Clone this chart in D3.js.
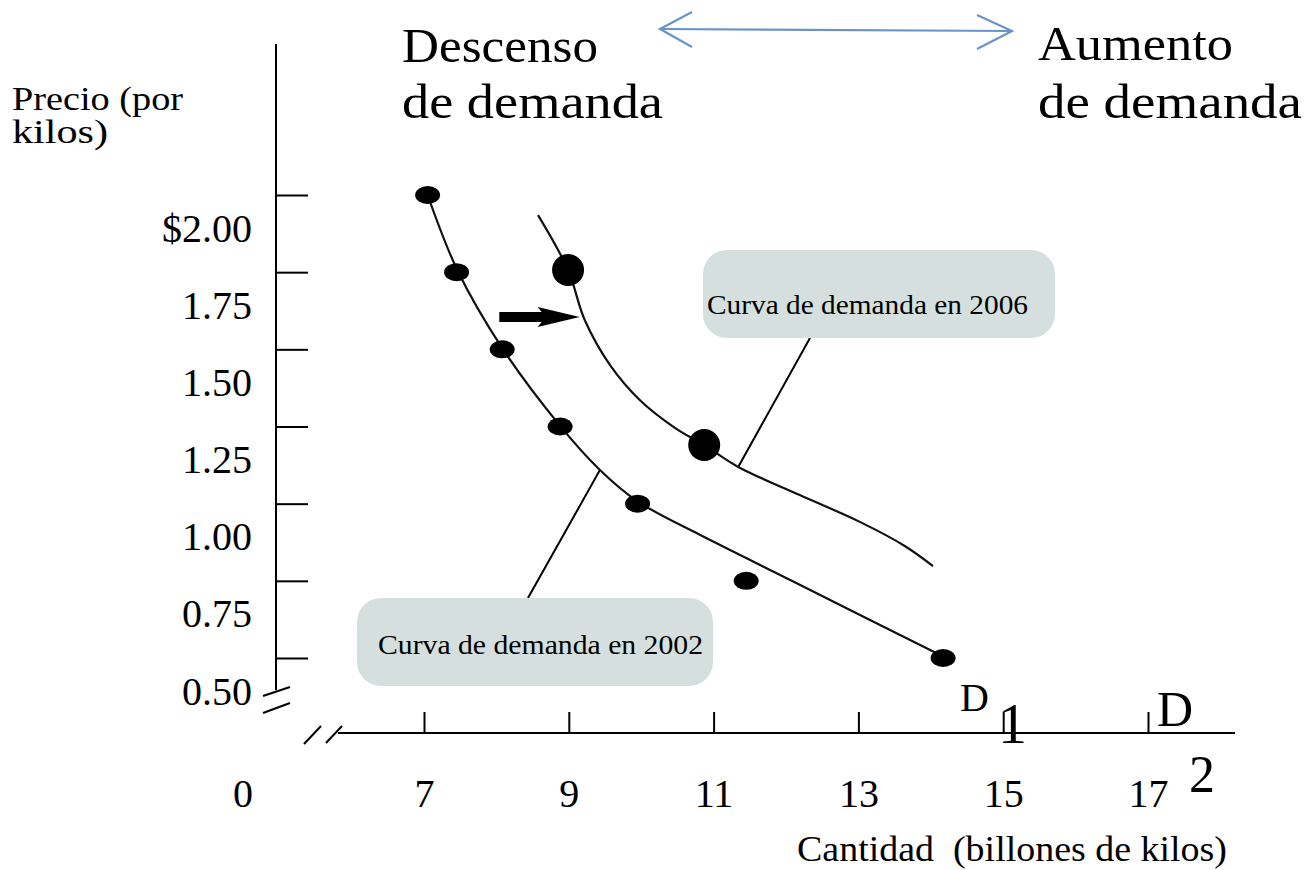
<!DOCTYPE html>
<html><head><meta charset="utf-8">
<script src="https://cdn.jsdelivr.net/npm/d3@7"></script>
<style>body{margin:0;background:#fff}svg{display:block}text{font-family:"Liberation Serif","Times New Roman",serif;fill:#000}</style>
</head><body>
<svg id="c" width="1314" height="870"></svg>
<script>
// ---- data ----
const xTicks = [7, 9, 11, 13, 15, 17];
const xTickLabels = ["7", "9", "11", "13", "15", "17"];
const yTicks = [2.00, 1.75, 1.50, 1.25, 1.00, 0.75, 0.50];
const yTickLabels = ["$2.00", "1.75", "1.50", "1.25", "1.00", "0.75", "0.50"];
// Demand 2002 (D1) observed points
const d1Qty = [7.05, 7.45, 8.08, 8.88, 9.95, 11.45, 14.17];
const d1Price = [2.00, 1.75, 1.50, 1.25, 1.00, 0.75, 0.50];
// D1 fitted curve
const d1CurveQty = [7.05, 7.46, 8.08, 8.88, 9.43, 9.94, 10.81, 11.45, 12.19, 13.16, 14.13];
const d1CurvePrice = [2.00, 1.757, 1.504, 1.252, 1.109, 1.009, 0.899, 0.824, 0.737, 0.623, 0.51];
// Demand 2006 (D2) points and curve
const d2Qty = [8.99, 10.87];
const d2Price = [1.757, 1.19];
const d2CurveQty = [8.575, 8.99, 9.22, 9.57, 9.98, 10.47, 10.87, 11.34, 12.19, 13.02, 13.64, 14.03];
const d2CurvePrice = [1.935, 1.757, 1.595, 1.449, 1.336, 1.245, 1.19, 1.119, 1.028, 0.941, 0.863, 0.798];
const shiftArrow = [[8.04, 1.605], [9.15, 1.605]];
const calloutAnchors = [[11.34, 1.119], [9.43, 1.109]];
const calloutTexts = ["Curva de demanda en 2006", "Curva de demanda en 2002"];

// ---- scales ----
const svg = d3.select("#c");
const x = d3.scaleLinear().domain([7, 17]).range([424, 1148]);
const y = d3.scaleLinear().domain([0.5, 2.0]).range([658, 195]);
const x0 = 276, y0 = 733;

// ---- x axis ----
svg.append("line").attr("x1", 338).attr("x2", 1235).attr("y1", y0).attr("y2", y0)
  .attr("stroke", "#000").attr("stroke-width", 2);
const xa = svg.append("g").attr("transform", `translate(0,${y0})`)
  .call(d3.axisBottom(x).tickValues(xTicks).tickFormat((d, i) => xTickLabels[i])
    .tickSizeInner(-21).tickSizeOuter(0).tickPadding(46));
xa.select(".domain").remove();
xa.selectAll(".tick line").attr("stroke", "#000").attr("stroke-width", 2);
xa.selectAll(".tick text").style("font-family", '"Liberation Serif",serif').style("font-size", "40px").attr("fill", "#000");
svg.append("text").attr("x", 243).attr("y", 807).attr("text-anchor", "middle").style("font-size", "40px").text("0");

// ---- y axis ----
svg.append("line").attr("x1", x0).attr("x2", x0).attr("y1", 44).attr("y2", 690)
  .attr("stroke", "#000").attr("stroke-width", 2);
const ya = svg.append("g").attr("transform", `translate(${x0},0)`)
  .call(d3.axisLeft(y).tickValues(yTicks).tickFormat((d, i) => yTickLabels[i])
    .tickSizeInner(-32).tickSizeOuter(0).tickPadding(24));
ya.select(".domain").remove();
ya.selectAll(".tick line").attr("stroke", "#000").attr("stroke-width", 2);
ya.selectAll(".tick text").attr("dy", 46).style("font-family", '"Liberation Serif",serif').style("font-size", "40px").attr("fill", "#000");

// break marks
const brk = svg.append("g").attr("stroke", "#000").attr("stroke-width", 2);
brk.append("line").attr("x1", 263).attr("y1", 696).attr("x2", 290).attr("y2", 687);
brk.append("line").attr("x1", 263).attr("y1", 713).attr("x2", 290).attr("y2", 703);
brk.append("line").attr("x1", 304).attr("y1", 744).attr("x2", 321).attr("y2", 726);
brk.append("line").attr("x1", 326).attr("y1", 743).attr("x2", 342).attr("y2", 726);

// axis titles
svg.append("text").attr("x", 12).attr("y", 110).style("font-size", "33px")
  .attr("textLength", 171).attr("lengthAdjust", "spacingAndGlyphs").text("Precio (por");
svg.append("text").attr("x", 12).attr("y", 143).style("font-size", "33px")
  .attr("textLength", 96).attr("lengthAdjust", "spacingAndGlyphs").text("kilos)");
svg.append("text").attr("x", 797).attr("y", 861).style("font-size", "36px").style("white-space", "pre")
  .attr("textLength", 430).attr("lengthAdjust", "spacingAndGlyphs").text("Cantidad  (billones de kilos)");

// ---- callouts ----
const boxes = [{x: 703, y: 250, w: 352, h: 88, tx: 707, ty: 314, lx: 810}, {x: 357, y: 598, w: 356, h: 88, tx: 378, ty: 654, lx: 528}];
boxes.forEach((b, i) => {
  const a = calloutAnchors[i];
  svg.append("line").attr("x1", x(a[0])).attr("y1", y(a[1]))
    .attr("x2", b.lx).attr("y2", i === 0 ? b.y + b.h : b.y)
    .attr("stroke", "#000").attr("stroke-width", 2);
  svg.append("rect").attr("x", b.x).attr("y", b.y).attr("width", b.w).attr("height", b.h)
    .attr("rx", 24).attr("fill", "#d5e0de");
  svg.append("text").attr("x", b.tx).attr("y", b.ty).style("font-size", "27px")
    .attr("textLength", i === 0 ? 321 : 325).attr("lengthAdjust", "spacingAndGlyphs")
    .attr("fill", "#1a1a2a").text(calloutTexts[i]);
});

// ---- curves ----
const line = d3.line().x(d => x(d[0])).y(d => y(d[1])).curve(d3.curveCatmullRom.alpha(0.5));
svg.append("path").attr("d", line(d1CurveQty.map((q, i) => [q, d1CurvePrice[i]])))
  .attr("fill", "none").attr("stroke", "#111").attr("stroke-width", 2.2);
svg.append("path").attr("d", line(d2CurveQty.map((q, i) => [q, d2CurvePrice[i]])))
  .attr("fill", "none").attr("stroke", "#111").attr("stroke-width", 2.2);

// ---- dots ----
svg.selectAll("ellipse.d1").data(d1Qty.map((q, i) => [q, d1Price[i]])).join("ellipse")
  .attr("cx", d => x(d[0])).attr("cy", d => y(d[1])).attr("rx", 12.5).attr("ry", 9).attr("fill", "#000");
svg.selectAll("circle.d2").data(d2Qty.map((q, i) => [q, d2Price[i]])).join("circle")
  .attr("cx", d => x(d[0])).attr("cy", d => y(d[1])).attr("r", 16).attr("fill", "#000");

// ---- shift arrow ----
{
  const [p0, p1] = shiftArrow;
  const ax0 = x(p0[0]), ax1 = x(p1[0]), ay = y(p0[1]);
  svg.append("path").attr("fill", "#000").attr("d",
    `M${ax0},${ay - 5}L${ax1 - 38},${ay - 5}L${ax1 - 42},${ay - 10}L${ax1},${ay}L${ax1 - 42},${ay + 10}L${ax1 - 38},${ay + 5}L${ax0},${ay + 5}Z`);
}

// ---- top annotations ----
svg.append("text").attr("x", 402).attr("y", 62).style("font-size", "48px").attr("textLength", 196).attr("lengthAdjust", "spacingAndGlyphs").text("Descenso");
svg.append("text").attr("x", 402).attr("y", 118).style("font-size", "48px").attr("textLength", 261).attr("lengthAdjust", "spacingAndGlyphs").text("de demanda");
svg.append("text").attr("x", 1038).attr("y", 60).style("font-size", "48px").attr("textLength", 195).attr("lengthAdjust", "spacingAndGlyphs").text("Aumento");
svg.append("text").attr("x", 1038).attr("y", 118).style("font-size", "48px").attr("textLength", 264).attr("lengthAdjust", "spacingAndGlyphs").text("de demanda");
const ba = svg.append("g").attr("stroke", "#6a93cc").attr("stroke-width", 2.2).attr("fill", "none");
ba.append("line").attr("x1", 660).attr("y1", 29).attr("x2", 1012).attr("y2", 31);
ba.append("polyline").attr("points", "692,12 660,29 692,47");
ba.append("polyline").attr("points", "977,15 1012,31 977,49");

// D labels
svg.append("text").attr("x", 960).attr("y", 711).style("font-size", "40px").text("D");
svg.append("text").attr("x", 998).attr("y", 743).style("font-size", "58px").text("1");
svg.append("text").attr("x", 1157).attr("y", 726).style("font-size", "50px").text("D");
svg.append("text").attr("x", 1189).attr("y", 792).style("font-size", "52px").text("2");
</script>
</body></html>
